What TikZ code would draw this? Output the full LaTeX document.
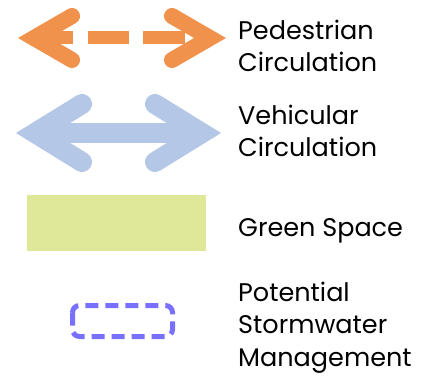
\documentclass[tikz,border=0pt]{standalone}
\usepackage{fontspec}
\setmainfont{Poppins}
\usepackage{xcolor}
\usetikzlibrary{positioning}
\definecolor{pedorange}{RGB}{240,145,76}
\definecolor{vehblue}{RGB}{180,199,231}
\definecolor{greenfill}{RGB}{223,232,152}
\definecolor{stormblue}{RGB}{122,112,255}
\tikzset{
	x=1pt, y=-1pt, % pixel-like units
	head/.style={line cap=round, line join=miter, miter limit=10},
	pedhead/.style={head, draw=pedorange, line width=16pt},
	pedshaft/.style={draw=pedorange, line width=13pt, dash pattern=on 25pt off 15pt on 41pt off 14pt on 42pt},
	vehhead/.style={head, draw=vehblue, line width=20pt},
	vehshaft/.style={draw=vehblue, line width=20pt},
	greenspace/.style={fill=greenfill, draw=none},
	stormbox/.style={draw=stormblue, line width=5pt, rounded corners=7pt, dash pattern=on 13pt off 7pt},
	legendtext/.style={anchor=base west, inner sep=0pt, align=left, font=\fontsize{25.5}{32.5}\selectfont},
}
\begin{document}
\begin{tikzpicture}
	\useasboundingbox (0,0) rectangle (436,382);
	% pedestrian
	\coordinate (pl) at (34,38);
	\coordinate (pr) at (210,38);
	\coordinate (plu) at (72,16);
	\coordinate (pld) at (72,60);
	\coordinate (pru) at (172,16);
	\coordinate (prd) at (172,60);
	\coordinate (ps) at (48,38);
	\coordinate (pe) at (185,38);
	\draw[pedshaft] (ps) -- (pe);
	\draw[pedhead] (plu) -- (pl) -- (pld);
	\draw[pedhead] (pru) -- (pr) -- (prd);
	\node[legendtext] (ped) at (238,72) {Pedestrian\\Circulation};
	
	% vehicular
	\coordinate (vl) at (35,133);
	\coordinate (vr) at (202,133);
	\coordinate (vlu) at (82,104);
	\coordinate (vld) at (82,162);
	\coordinate (vru) at (155,104);
	\coordinate (vrd) at (155,162);
	\draw[vehshaft] (vl) -- (vr);
	\draw[vehhead] (vlu) -- (vl) -- (vld);
	\draw[vehhead] (vru) -- (vr) -- (vrd);
	\node[legendtext] (veh) at (238,157) {Vehicular\\Circulation};
	
	% green space
	\fill[greenspace] (27,195) rectangle (206,251);
	\node[legendtext] (green) at (238,236) {Green Space};
	
	% stormwater
	\draw[stormbox] (72.5,305.5) rectangle (172.5,336.5);
	\node[legendtext] (storm) at (238,366) {Potential\\Stormwater\\Management};
\end{tikzpicture}
\end{document}
